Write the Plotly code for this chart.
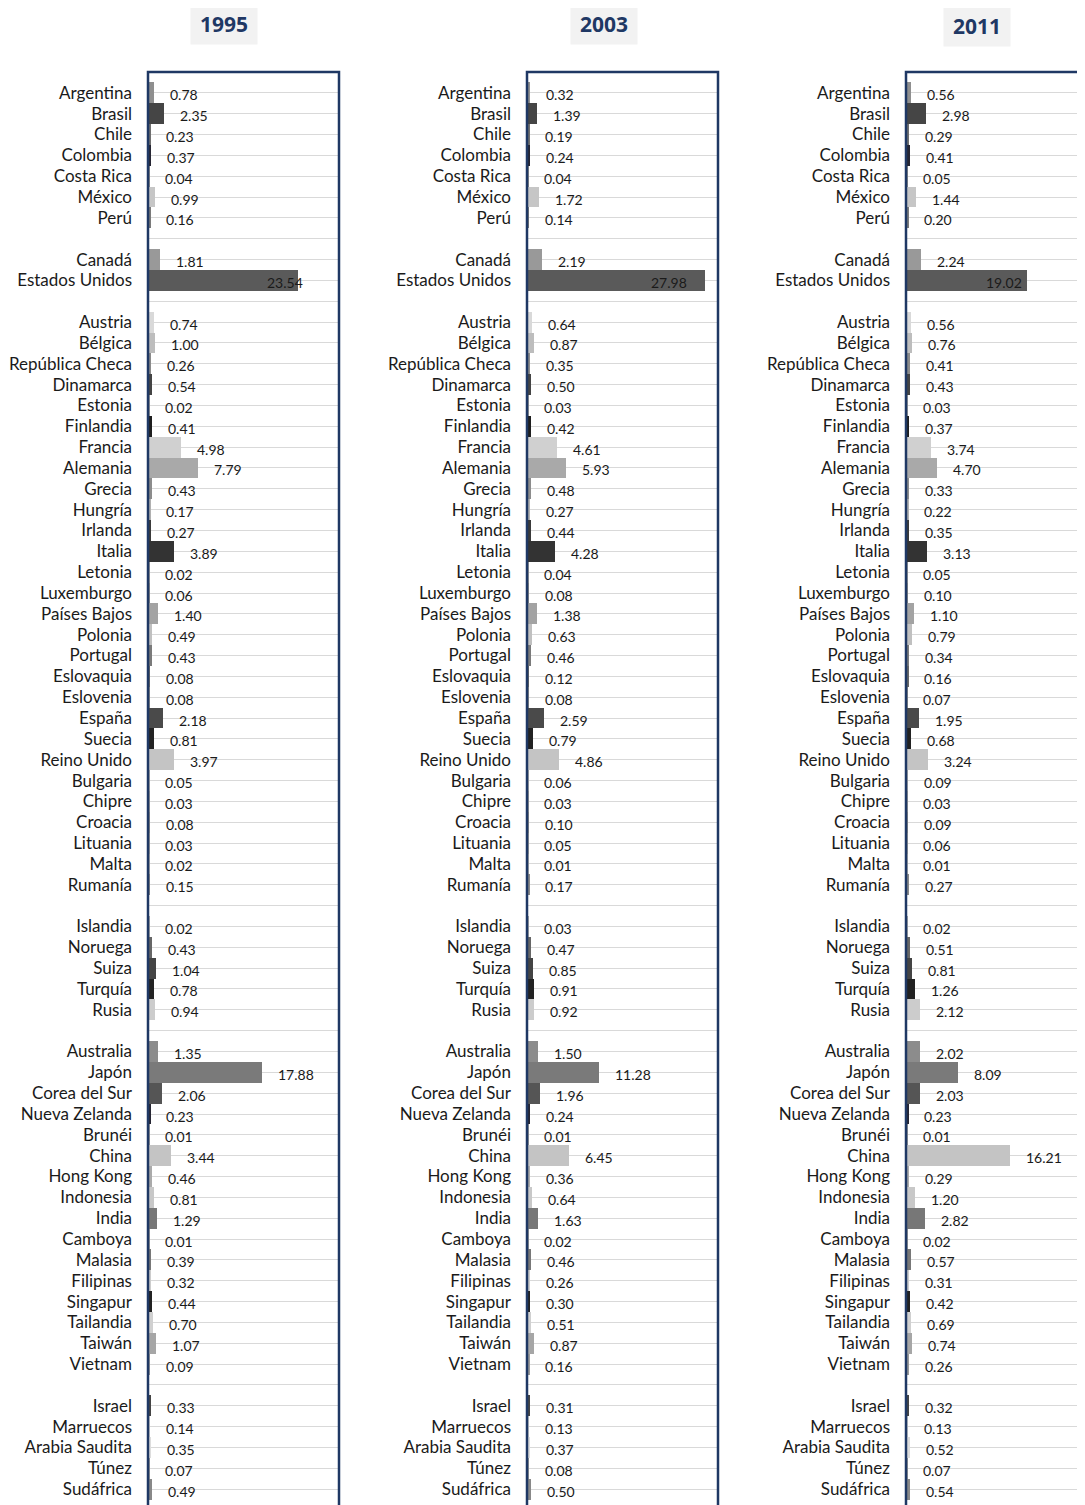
import plotly.graph_objects as go

# ── data ────────────────────────────────────────────────────────────────────
years = ["1995", "2003", "2011"]

groups = [
    ["Argentina", "Brasil", "Chile", "Colombia", "Costa Rica", "México", "Perú"],
    ["Canadá", "Estados Unidos"],
    ["Austria", "Bélgica", "República Checa", "Dinamarca", "Estonia", "Finlandia",
     "Francia", "Alemania", "Grecia", "Hungría", "Irlanda", "Italia", "Letonia",
     "Luxemburgo", "Países Bajos", "Polonia", "Portugal", "Eslovaquia", "Eslovenia",
     "España", "Suecia", "Reino Unido", "Bulgaria", "Chipre", "Croacia", "Lituania",
     "Malta", "Rumanía"],
    ["Islandia", "Noruega", "Suiza", "Turquía", "Rusia"],
    ["Australia", "Japón", "Corea del Sur", "Nueva Zelanda", "Brunéi", "China",
     "Hong Kong", "Indonesia", "India", "Camboya", "Malasia", "Filipinas",
     "Singapur", "Tailandia", "Taiwán", "Vietnam"],
    ["Israel", "Marruecos", "Arabia Saudita", "Túnez", "Sudáfrica"],
]

values_1995 = [0.78, 2.35, 0.23, 0.37, 0.04, 0.99, 0.16,
               1.81, 23.54,
               0.74, 1.00, 0.26, 0.54, 0.02, 0.41, 4.98, 7.79, 0.43, 0.17, 0.27,
               3.89, 0.02, 0.06, 1.40, 0.49, 0.43, 0.08, 0.08, 2.18, 0.81, 3.97,
               0.05, 0.03, 0.08, 0.03, 0.02, 0.15,
               0.02, 0.43, 1.04, 0.78, 0.94,
               1.35, 17.88, 2.06, 0.23, 0.01, 3.44, 0.46, 0.81, 1.29, 0.01, 0.39,
               0.32, 0.44, 0.70, 1.07, 0.09,
               0.33, 0.14, 0.35, 0.07, 0.49]

values_2003 = [0.32, 1.39, 0.19, 0.24, 0.04, 1.72, 0.14,
               2.19, 27.98,
               0.64, 0.87, 0.35, 0.50, 0.03, 0.42, 4.61, 5.93, 0.48, 0.27, 0.44,
               4.28, 0.04, 0.08, 1.38, 0.63, 0.46, 0.12, 0.08, 2.59, 0.79, 4.86,
               0.06, 0.03, 0.10, 0.05, 0.01, 0.17,
               0.03, 0.47, 0.85, 0.91, 0.92,
               1.50, 11.28, 1.96, 0.24, 0.01, 6.45, 0.36, 0.64, 1.63, 0.02, 0.46,
               0.26, 0.30, 0.51, 0.87, 0.16,
               0.31, 0.13, 0.37, 0.08, 0.50]

values_2011 = [0.56, 2.98, 0.29, 0.41, 0.05, 1.44, 0.20,
               2.24, 19.02,
               0.56, 0.76, 0.41, 0.43, 0.03, 0.37, 3.74, 4.70, 0.33, 0.22, 0.35,
               3.13, 0.05, 0.10, 1.10, 0.79, 0.34, 0.16, 0.07, 1.95, 0.68, 3.24,
               0.09, 0.03, 0.09, 0.06, 0.01, 0.27,
               0.02, 0.51, 0.81, 1.26, 2.12,
               2.02, 8.09, 2.03, 0.23, 0.01, 16.21, 0.29, 1.20, 2.82, 0.02, 0.57,
               0.31, 0.42, 0.69, 0.74, 0.26,
               0.32, 0.13, 0.52, 0.07, 0.54]

# one grey per country (same order as the flattened groups)
bar_colors = ["#8f8f8f", "#454545", "#6e6e6e", "#262633", "#8a8a8a", "#c6c6c6", "#7a7a7a",
              "#999999", "#5a5a5a",
              "#d9d9d9", "#bdbdbd", "#8a8a8a", "#444444", "#9a9a9a", "#1e1e1e", "#d0d0d0",
              "#a9a9a9", "#8c8c8c", "#b0b0b0", "#3a3a3a", "#333333", "#9a9a9a", "#8a8a8a",
              "#a3a3a3", "#c0c0c0", "#7a7a7a", "#666666", "#888888", "#4a4a4a", "#222222",
              "#c4c4c4", "#aaaaaa", "#999999", "#888888", "#999999", "#aaaaaa", "#888888",
              "#aaaaaa", "#666666", "#444444", "#222222", "#cccccc",
              "#8c8c8c", "#7a7a7a", "#555555", "#262633", "#999999", "#c4c4c4", "#aaaaaa",
              "#c8c8c8", "#777777", "#999999", "#777777", "#cccccc", "#222222", "#d0d0d0",
              "#a6a6a6", "#999999",
              "#444444", "#cccccc", "#dddddd", "#999999", "#888888"]

# ── layout constants (pixels, page coords; body margin of 8px removed) ─────
W, H = 1085, 1505
OFF = 8
PLOT_TOP = 72 - OFF
PANEL_LEFT = [149 - OFF, 528 - OFF, 907 - OFF]
PANEL_WIDTH = 190
PX_PER_UNIT = PANEL_WIDTH / 30.0
TITLE_POS = [(224 - OFF, 24 - OFF), (604 - OFF, 24 - OFF), (977 - OFF, 26 - OFF)]
NAVY = "#1F3864"
FONT = "Lato, 'Open Sans', sans-serif"

# row positions with a blank row between groups
names, rows, all_rows = [], [], []
r = 0
for gi, g in enumerate(groups):
    if gi > 0:
        all_rows.append(r)
        r += 1
    for n in g:
        names.append(n)
        rows.append(r)
        all_rows.append(r)
        r += 1
row_px = 20.84
y_bottom = -1 + (H - PLOT_TOP) / row_px

row_to_name = dict(zip(rows, names))
tick_text = [row_to_name.get(rr, "") for rr in all_rows]

fig = go.Figure()
series = [values_1995, values_2003, values_2011]
annotations = []
shapes = []

for i, vals in enumerate(series):
    ax = "" if i == 0 else str(i + 1)
    x0 = PANEL_LEFT[i] / W
    x1 = min((PANEL_LEFT[i] + PANEL_WIDTH) / W, 1.0)
    xmax = (x1 * W - PANEL_LEFT[i]) / PX_PER_UNIT

    fig.add_trace(go.Bar(
        x=vals, y=rows, orientation="h", width=1.0,
        marker=dict(color=bar_colors, line=dict(width=0)),
        xaxis="x" + ax, yaxis="y" + ax, showlegend=False,
        hovertemplate="%{text}: %{x:.2f}<extra></extra>", text=names,
        textposition="none",
    ))

    fig.layout["xaxis" + ax] = dict(
        domain=[x0, x1], range=[0, xmax], anchor="y" + ax,
        showgrid=False, zeroline=False, showticklabels=False, showline=False,
    )
    fig.layout["yaxis" + ax] = dict(
        domain=[0, (H - PLOT_TOP) / H], range=[y_bottom, -1], anchor="x" + ax,
        tickmode="array", tickvals=all_rows, ticktext=tick_text,
        showgrid=True, gridcolor="#D9D9D9", gridwidth=1, zeroline=False,
        showline=False, ticks="", ticklabelstandoff=16,
        tickfont=dict(family=FONT, size=17, color="#1a1a1a"),
    )

    # value labels just past each bar end
    for v, rr, n in zip(vals, rows, names):
        if n == "Estados Unidos":
            shift = {0: 7, 1: -16, 2: -3}[i]
            anchor = "right"
        else:
            shift, anchor = 14, "left"
        annotations.append(dict(
            x=v, y=rr, xref="x" + ax, yref="y" + ax, text=f"{v:.2f}",
            showarrow=False, xanchor=anchor, xshift=shift, yshift=-2,
            font=dict(family=FONT, size=14, color="#1a1a1a"),
        ))

    # panel frame
    shapes.append(dict(
        type="rect", xref="paper", yref="paper",
        x0=(PANEL_LEFT[i] - 1) / W,
        x1=(PANEL_LEFT[i] + PANEL_WIDTH) / W + (0.05 if i == 2 else 0),
        y0=-0.02, y1=(H - PLOT_TOP) / H,
        line=dict(color=NAVY, width=2.5), layer="above",
    ))

    # year title
    tx, ty = TITLE_POS[i]
    annotations.append(dict(
        x=tx / W, y=1 - ty / H, xref="paper", yref="paper",
        text=f"<b>{years[i]}</b>", showarrow=False, width=64, height=38,
        bgcolor="#F2F2F2", xanchor="center", yanchor="middle",
        font=dict(family="'Open Sans', sans-serif", size=21, color=NAVY),
    ))

fig.update_layout(
    width=W, height=H,
    margin=dict(l=0, r=0, t=0, b=0),
    paper_bgcolor="white", plot_bgcolor="white",
    bargap=0, annotations=annotations, shapes=shapes,
)

fig.write_html("out.html")
